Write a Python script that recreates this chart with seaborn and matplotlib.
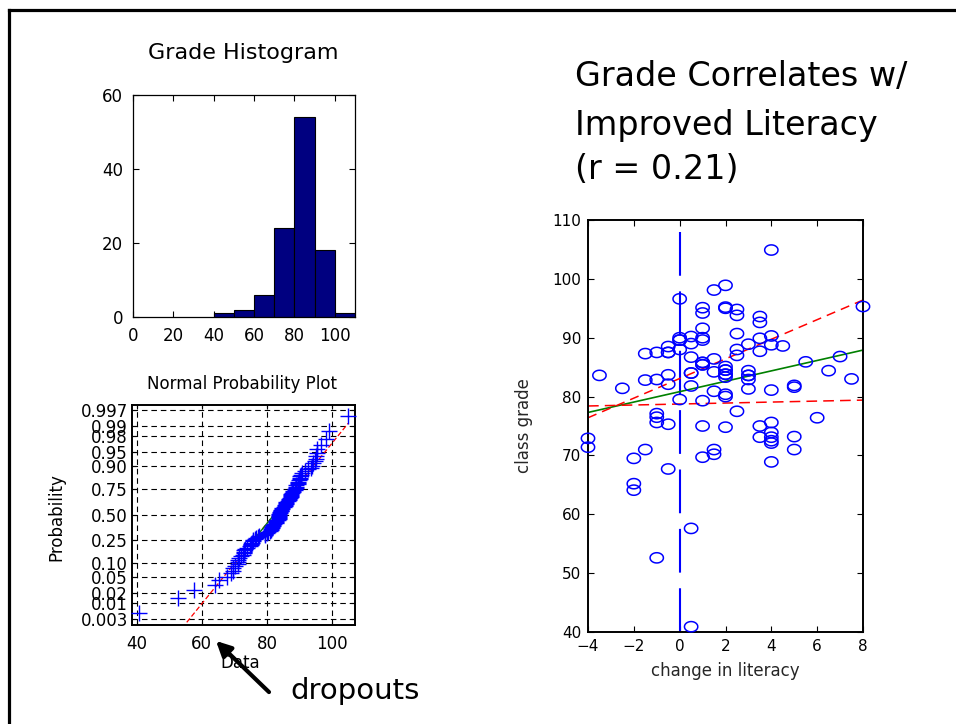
import numpy as np
import matplotlib
matplotlib.use("Agg")
import matplotlib.pyplot as plt
import seaborn as sns
from matplotlib.path import Path
from matplotlib.lines import Line2D
from statistics import NormalDist

# ---------------- data ----------------
literacy = [-4, -4,
            -3.5,
            -2.5,
            -2, -2, -2,
            -1.5, -1.5, -1.5,
            -1, -1, -1, -1, -1, -1,
            -0.5, -0.5, -0.5, -0.5, -0.5, -0.5, -0.5,
            0, 0, 0, 0, 0, 0,
            0.5, 0.5, 0.5, 0.5, 0.5, 0.5, 0.5, 0.5,
            1, 1, 1, 1, 1, 1, 1, 1, 1, 1, 1, 1,
            1.5, 1.5, 1.5, 1.5, 1.5, 1.5,
            2, 2, 2, 2, 2, 2, 2, 2, 2, 2, 2, 2,
            2.5, 2.5, 2.5, 2.5, 2.5, 2.5,
            3, 3, 3, 3, 3, 3,
            3.5, 3.5, 3.5, 3.5, 3.5, 3.5,
            4, 4, 4, 4, 4, 4, 4, 4, 4, 4,
            4.5,
            5, 5, 5, 5,
            5.5, 6, 6.5, 7, 7.5, 8]
grade = [72.9, 71.4,
         83.6,
         81.4,
         69.5, 65.2, 64.1,
         87.3, 82.8, 71.0,
         87.5, 82.9, 77.1, 76.5, 75.6, 52.6,
         88.5, 87.5, 87.5, 83.7, 82.1, 75.3, 67.7,
         96.6, 90.0, 89.6, 89.6, 88.0, 79.5,
         90.2, 89.0, 86.7, 84.0, 84.0, 81.8, 57.6, 40.9,
         95.1, 94.2, 91.6, 90.0, 89.6, 85.8, 85.8, 85.4, 85.4, 79.3, 75.0, 69.7,
         98.1, 86.4, 84.2, 80.9, 71.0, 70.2,
         98.9, 95.2, 95.0, 85.1, 84.5, 84.5, 83.8, 83.8, 83.3, 80.4, 80.0, 74.8,
         94.8, 93.8, 90.7, 88.0, 87.0, 77.5,
         88.9, 84.4, 83.6, 83.6, 82.9, 81.3,
         93.6, 92.6, 89.9, 87.7, 75.0, 73.1,
         104.9, 90.3, 88.8, 81.1, 75.6, 73.9, 73.1, 72.5, 72.1, 68.9,
         88.6,
         81.9, 81.6, 73.2, 71.0,
         85.9, 76.4, 84.4, 86.8, 83.0, 95.3]

hist_bins = [40, 50, 60, 70, 80, 90, 100, 110]
hist_xticks = [0, 20, 40, 60, 80, 100]
hist_yticks = [0, 20, 40, 60]

prob_levels = [0.003, 0.01, 0.02, 0.05, 0.10, 0.25, 0.50, 0.75, 0.90, 0.95, 0.98, 0.99, 0.997]
prob_labels = ["0.003", "0.01", "0.02", "0.05", "0.10", "0.25", "0.50",
               "0.75", "0.90", "0.95", "0.98", "0.99", "0.997"]
prob_xticks = [40, 60, 80, 100]

fit_x = [-4, 8]
fit_y = [77.3, 87.9]
ci_upper = [76.4, 96.4]
ci_lower = [78.4, 79.4]

scatter_xticks = [-4, -2, 0, 2, 4, 6, 8]
scatter_yticks = [40, 50, 60, 70, 80, 90, 100, 110]

# ---------------- style ----------------
sns.set_theme(style="white")
plt.rcParams["font.family"] = ["DejaVu Sans"]
plt.rcParams["axes.edgecolor"] = "black"
plt.rcParams["text.color"] = "black"
plt.rcParams["xtick.color"] = "black"
plt.rcParams["ytick.color"] = "black"

W, H = 956, 724
fig = plt.figure(figsize=(W / 100, H / 100), dpi=100)
fig.patch.set_facecolor("white")


def box(l, r, t, b):
    return [l / W, 1 - b / H, (r - l) / W, (b - t) / H]


def fx(x):
    return x / W


def fy(y):
    return 1 - y / H


def box_ticks(ax, size, length=4, pad=5, lw=0.8):
    ax.tick_params(direction="in", top=True, right=True, bottom=True, left=True,
                   length=length, width=lw, labelsize=size, pad=pad)
    for s in ax.spines.values():
        s.set_visible(True)
        s.set_color("black")


# ---------------- histogram ----------------
ax_h = fig.add_axes(box(133, 355, 95, 317))
sns.histplot(x=grade, bins=hist_bins, color="#000080", edgecolor="black",
             linewidth=0.8, alpha=1.0, ax=ax_h)
ax_h.set_xlim(0, 110)
ax_h.set_ylim(0, 60)
ax_h.set_xticks(hist_xticks)
ax_h.set_yticks(hist_yticks)
ax_h.set_xlabel("")
ax_h.set_ylabel("")
box_ticks(ax_h, 12, length=4, pad=7)
for s in ax_h.spines.values():
    s.set_linewidth(0.9)
fig.text(fx(243), fy(53), "Grade Histogram", fontsize=16, ha="center", va="center")

# ---------------- normal probability plot ----------------
ax_p = fig.add_axes(box(132, 355, 405, 625))
nd = NormalDist()
g_sorted = np.sort(np.array(grade))
n = len(g_sorted)
zvals = [nd.inv_cdf((i - 0.5) / n) for i in range(1, n + 1)]
q1, q3 = np.percentile(g_sorted, [25, 75])
z1, z3 = nd.inv_cdf(0.25), nd.inv_cdf(0.75)
slope = (z3 - z1) / (q3 - q1)
line_x = np.array([g_sorted.min(), g_sorted.max()])
ax_p.plot(line_x, z1 + slope * (line_x - q1), color="red", lw=0.9,
          linestyle=(0, (4, 2)), zorder=2)
mid_x = np.array([q1, q3])
ax_p.plot(mid_x, z1 + slope * (mid_x - q1), color="green", lw=1.0, zorder=2)
sns.scatterplot(x=g_sorted, y=zvals, marker="+", s=120, color="blue",
                linewidth=1.0, ax=ax_p, zorder=3, clip_on=False)
ax_p.set_xlim(38.6, 107)
ax_p.set_ylim(-2.9, 2.88)
ax_p.set_xticks(prob_xticks)
ax_p.set_yticks([nd.inv_cdf(p) for p in prob_levels])
ax_p.set_yticklabels(prob_labels)
ax_p.grid(True, color="black", linestyle=(0, (5, 3.5)), linewidth=0.8)
ax_p.set_axisbelow(True)
box_ticks(ax_p, 12, length=3, pad=3)
ax_p.tick_params(axis="x", pad=7)
for s in ax_p.spines.values():
    s.set_linewidth(1.4)
ax_p.set_xlabel("")
ax_p.set_ylabel("")
fig.text(fx(242), fy(384), "Normal Probability Plot", fontsize=12, ha="center", va="center")
fig.text(fx(56), fy(517), "Probability", fontsize=12, ha="center", va="center", rotation=90)
fig.text(fx(240), fy(663), "Data", fontsize=12, ha="center", va="center")

# ---------------- scatter ----------------
ax_s = fig.add_axes(box(588, 863, 220, 632))
t = np.linspace(0, 2 * np.pi, 60)
ellipse = Path(np.column_stack([1.3 * np.cos(t), np.sin(t)]))
ax_s.axvline(0, color="blue", lw=1.5, dashes=(21, 7.5), zorder=1)
ax_s.plot(fit_x, fit_y, color="green", lw=1.2, zorder=2)
ax_s.plot(fit_x, ci_upper, color="red", lw=1.1, dashes=(6, 4), zorder=2)
ax_s.plot(fit_x, ci_lower, color="red", lw=1.1, dashes=(7, 4), zorder=2)
sns.scatterplot(x=literacy, y=grade, marker=ellipse, s=92, facecolor="none",
                edgecolor="blue", linewidth=1.1, ax=ax_s, zorder=3, clip_on=False)
ax_s.set_xlim(-4, 8)
ax_s.set_ylim(40, 110)
ax_s.set_xticks(scatter_xticks)
ax_s.set_yticks(scatter_yticks)
box_ticks(ax_s, 11, length=4, pad=5)
for s in ax_s.spines.values():
    s.set_linewidth(1.4)
ax_s.set_xlabel("change in literacy", fontsize=12, labelpad=6)
ax_s.set_ylabel("class grade", fontsize=12, labelpad=14)

# ---------------- big title ----------------
for txt, yb in [("Grade Correlates w/", 86), ("Improved Literacy", 135), ("(r = 0.21)", 179)]:
    fig.text(fx(575), fy(yb), txt, fontsize=24, ha="left", va="baseline")

# ---------------- annotation ----------------
fig.text(fx(290), fy(699), "dropouts", fontsize=21, ha="left", va="baseline")
fig.add_artist(matplotlib.patches.FancyArrowPatch(
    posA=(fx(271), fy(694)), posB=(fx(214), fy(639)), transform=fig.transFigure,
    arrowstyle="-|>", mutation_scale=22, lw=3, color="black"))

# ---------------- slide border ----------------
fig.add_artist(Line2D([fx(8.5), fx(8.5)], [0, fy(9.5)], transform=fig.transFigure,
                      color="black", lw=2.3, solid_capstyle="projecting"))
fig.add_artist(Line2D([fx(8.5), 1], [fy(9.5), fy(9.5)], transform=fig.transFigure,
                      color="black", lw=2.3, solid_capstyle="projecting"))

fig.savefig("out.png", dpi=100, facecolor="white")
